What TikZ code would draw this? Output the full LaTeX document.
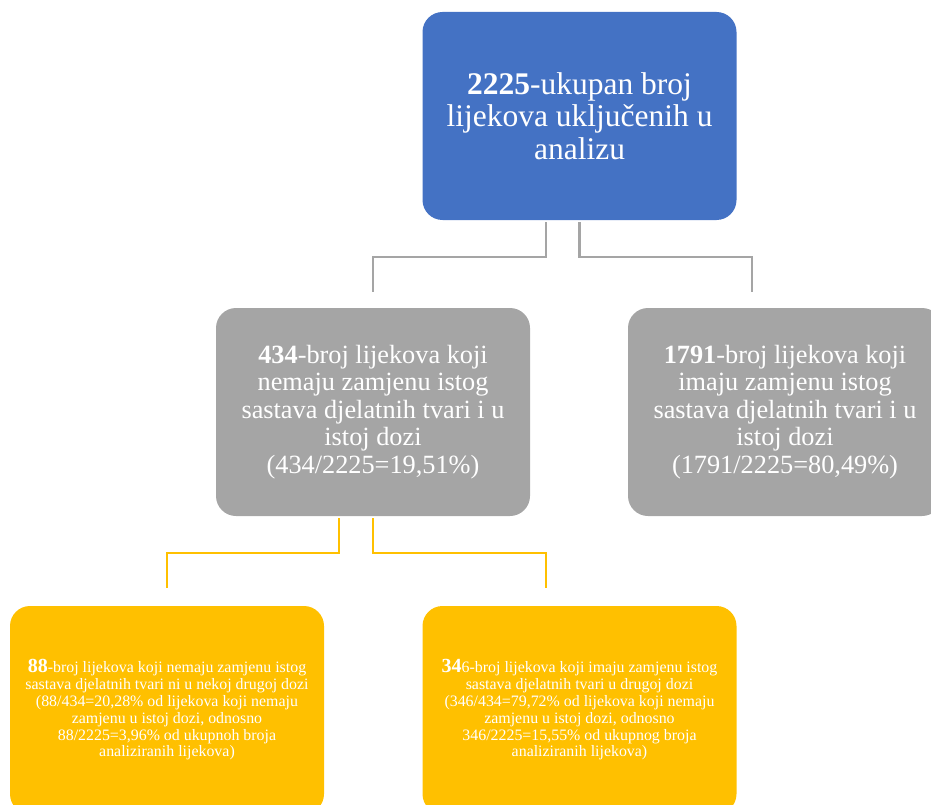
\documentclass[tikz,border=0pt]{standalone}
\usepackage{fontspec}
\setmainfont{Liberation Serif}
\usetikzlibrary{calc}
\definecolor{topblue}{HTML}{4472C4}
\definecolor{midgrey}{HTML}{A5A5A5}
\definecolor{lowgold}{HTML}{FFC000}

\begin{document}
\begin{tikzpicture}[x=1pt, y=-1pt, line join=miter,
	box/.style={rounded corners=20pt, minimum width=314pt, minimum height=208pt,
		inner sep=0pt, align=center, text=white},
	bluebox/.style={box, fill=topblue, font=\fontsize{31.5}{32.5}\selectfont},
	greybox/.style={box, fill=midgrey, font=\fontsize{26.3}{27.5}\selectfont},
	goldbox/.style={box, fill=lowgold, font=\fontsize{15.9}{16.8}\selectfont},
	greyline/.style={draw=midgrey, line width=2.2pt},
	goldline/.style={draw=lowgold, line width=2.5pt}]
	
	\useasboundingbox (0,0) rectangle (931,805);
	\clip (0,0) rectangle (931,805);
	
	%========================
	% Top level
	%========================
	\node[bluebox] (top) at (579.5,116)
	{\textbf{2225}-ukupan broj\\ lijekova uključenih u\\ analizu};
	
	%========================
	% Middle level
	%========================
	\node[greybox] (greyL) at (373,412)
	{\textbf{434}-broj lijekova koji\\ nemaju zamjenu istog\\ sastava djelatnih tvari i u\\
		istoj dozi\\ (434/2225=19,51\%)};
	\node[greybox] (greyR) at (785,412)
	{\textbf{1791}-broj lijekova koji\\ imaju zamjenu istog\\ sastava djelatnih tvari i u\\
		istoj dozi\\ (1791/2225=80,49\%)};
	
	%========================
	% Bottom level
	%========================
	\node[goldbox] (goldL) at (167,710)
	{{\fontsize{20}{16.8}\selectfont\bfseries 88}-broj lijekova koji nemaju zamjenu istog\\
		sastava djelatnih tvari ni u nekoj drugoj dozi\\
		(88/434=20,28\% od lijekova koji nemaju\\ zamjenu u istoj dozi, odnosno\\
		88/2225=3,96\% od ukupnoh broja\\ analiziranih lijekova)};
	\node[goldbox] (goldR) at (579.5,710)
	{{\fontsize{20}{16.8}\selectfont\bfseries 34}6-broj lijekova koji imaju zamjenu istog\\
		sastava djelatnih tvari u drugoj dozi\\
		(346/434=79,72\% od lijekova koji nemaju\\ zamjenu u istoj dozi, odnosno\\
		346/2225=15,55\% od ukupnog broja\\ analiziranih lijekova)};
	
	% connectors (free ends)
	\coordinate (endL) at (373,292);
	\coordinate (endR) at (752,292);
	\coordinate (endLL) at (167,588);
	\coordinate (endLR) at (546,588);
	
	\draw[greyline] ([xshift=-33.5pt,yshift=-2pt]top.south) -- ++(0,35) -| (endL);
	\draw[greyline] ([yshift=-2pt]top.south) -- ++(0,35) -| (endR);
	\draw[goldline] ([xshift=-34pt,yshift=-2pt]greyL.south) -- ++(0,35) -| (endLL);
	\draw[goldline] ([yshift=-2pt]greyL.south) -- ++(0,35) -| (endLR);
	
\end{tikzpicture}
\end{document}
